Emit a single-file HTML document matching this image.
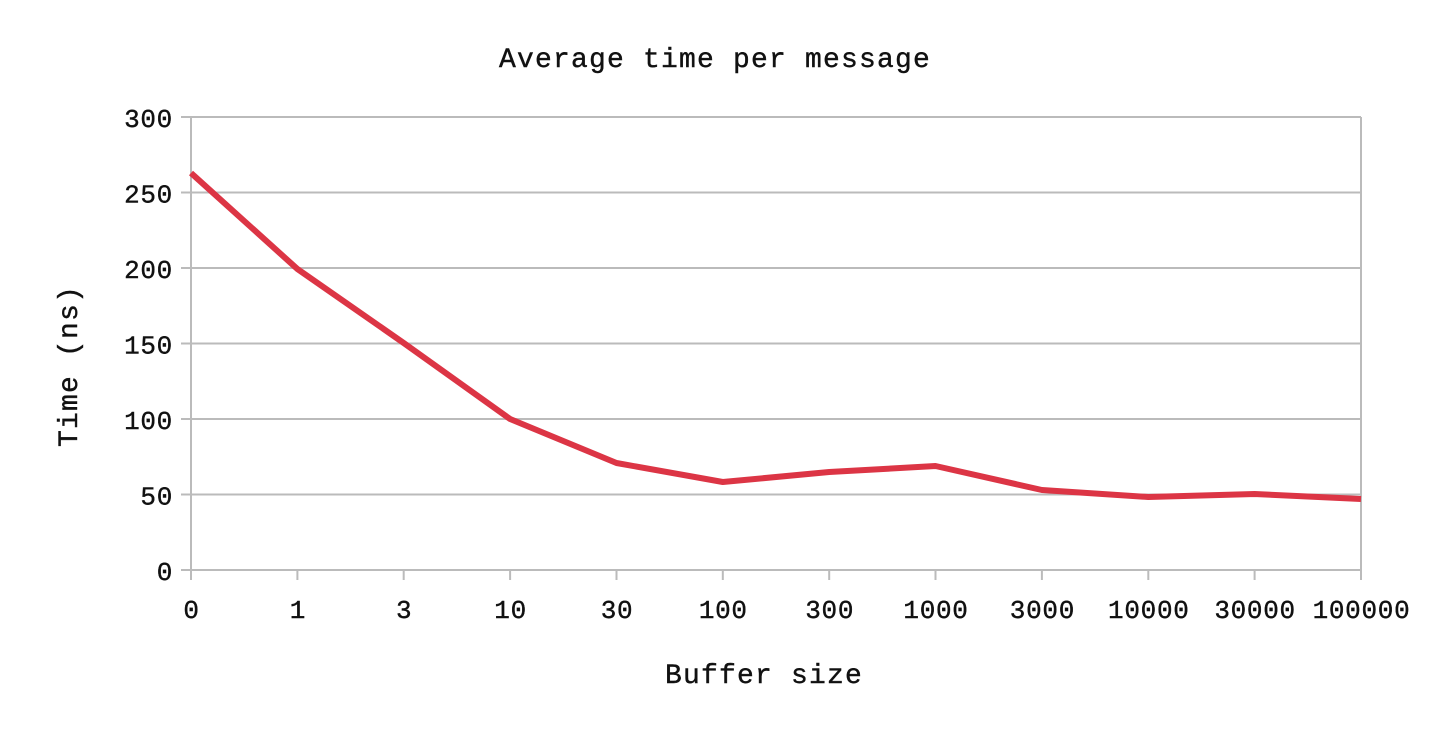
<!DOCTYPE html>
<html><head><style>
html,body{margin:0;padding:0;background:#fff;}
svg text{font-family:"Liberation Mono",monospace;fill:#111;}
</style></head><body>
<svg width="1440" height="733" xmlns="http://www.w3.org/2000/svg">
<g stroke="#bbbbbb" stroke-width="2">
<line x1="181" y1="117" x2="1361" y2="117"/>
<line x1="181" y1="192.5" x2="1361" y2="192.5"/>
<line x1="181" y1="268" x2="1361" y2="268"/>
<line x1="181" y1="343.5" x2="1361" y2="343.5"/>
<line x1="181" y1="419" x2="1361" y2="419"/>
<line x1="181" y1="494.5" x2="1361" y2="494.5"/>
<line x1="181" y1="570" x2="1361" y2="570"/>
<line x1="191" y1="117" x2="191" y2="580"/>
<line x1="1361" y1="117" x2="1361" y2="580"/>
<line x1="297.4" y1="570" x2="297.4" y2="580"/>
<line x1="403.7" y1="570" x2="403.7" y2="580"/>
<line x1="510.1" y1="570" x2="510.1" y2="580"/>
<line x1="616.5" y1="570" x2="616.5" y2="580"/>
<line x1="722.8" y1="570" x2="722.8" y2="580"/>
<line x1="829.2" y1="570" x2="829.2" y2="580"/>
<line x1="935.5" y1="570" x2="935.5" y2="580"/>
<line x1="1041.9" y1="570" x2="1041.9" y2="580"/>
<line x1="1148.3" y1="570" x2="1148.3" y2="580"/>
<line x1="1254.6" y1="570" x2="1254.6" y2="580"/>
</g>
<polyline fill="none" stroke="#dc3545" stroke-width="6" stroke-linejoin="round" points="191,173 297.4,269 403.7,343 510.1,419 616.5,463 722.8,482 829.2,472 935.5,466 1041.9,490 1148.3,497 1254.6,494 1361,499"/>
<g font-size="26" text-anchor="end" letter-spacing="0.7" stroke="#111" stroke-width="0.4">
<text x="173" y="127">300</text>
<text x="173" y="202.5">250</text>
<text x="173" y="278">200</text>
<text x="173" y="353.5">150</text>
<text x="173" y="429">100</text>
<text x="173" y="504.5">50</text>
<text x="173" y="580">0</text>
</g>
<g font-size="26" text-anchor="middle" letter-spacing="0.7" stroke="#111" stroke-width="0.4">
<text x="191.5" y="618">0</text>
<text x="297.9" y="618">1</text>
<text x="404.2" y="618">3</text>
<text x="510.6" y="618">10</text>
<text x="617" y="618">30</text>
<text x="723.3" y="618">100</text>
<text x="829.7" y="618">300</text>
<text x="936" y="618">1000</text>
<text x="1042.4" y="618">3000</text>
<text x="1148.8" y="618">10000</text>
<text x="1255.1" y="618">30000</text>
<text x="1361.5" y="618">100000</text>
</g>
<g stroke="#111" stroke-width="0.4">
<text x="715" y="67" font-size="28" letter-spacing="1.2" text-anchor="middle">Average time per message</text>
<text x="764" y="683" font-size="28" letter-spacing="1.2" text-anchor="middle">Buffer size</text>
<text transform="translate(77,366) rotate(-90)" font-size="28" letter-spacing="1.2" text-anchor="middle">Time (ns)</text>
</g>
</svg>
</body></html>
